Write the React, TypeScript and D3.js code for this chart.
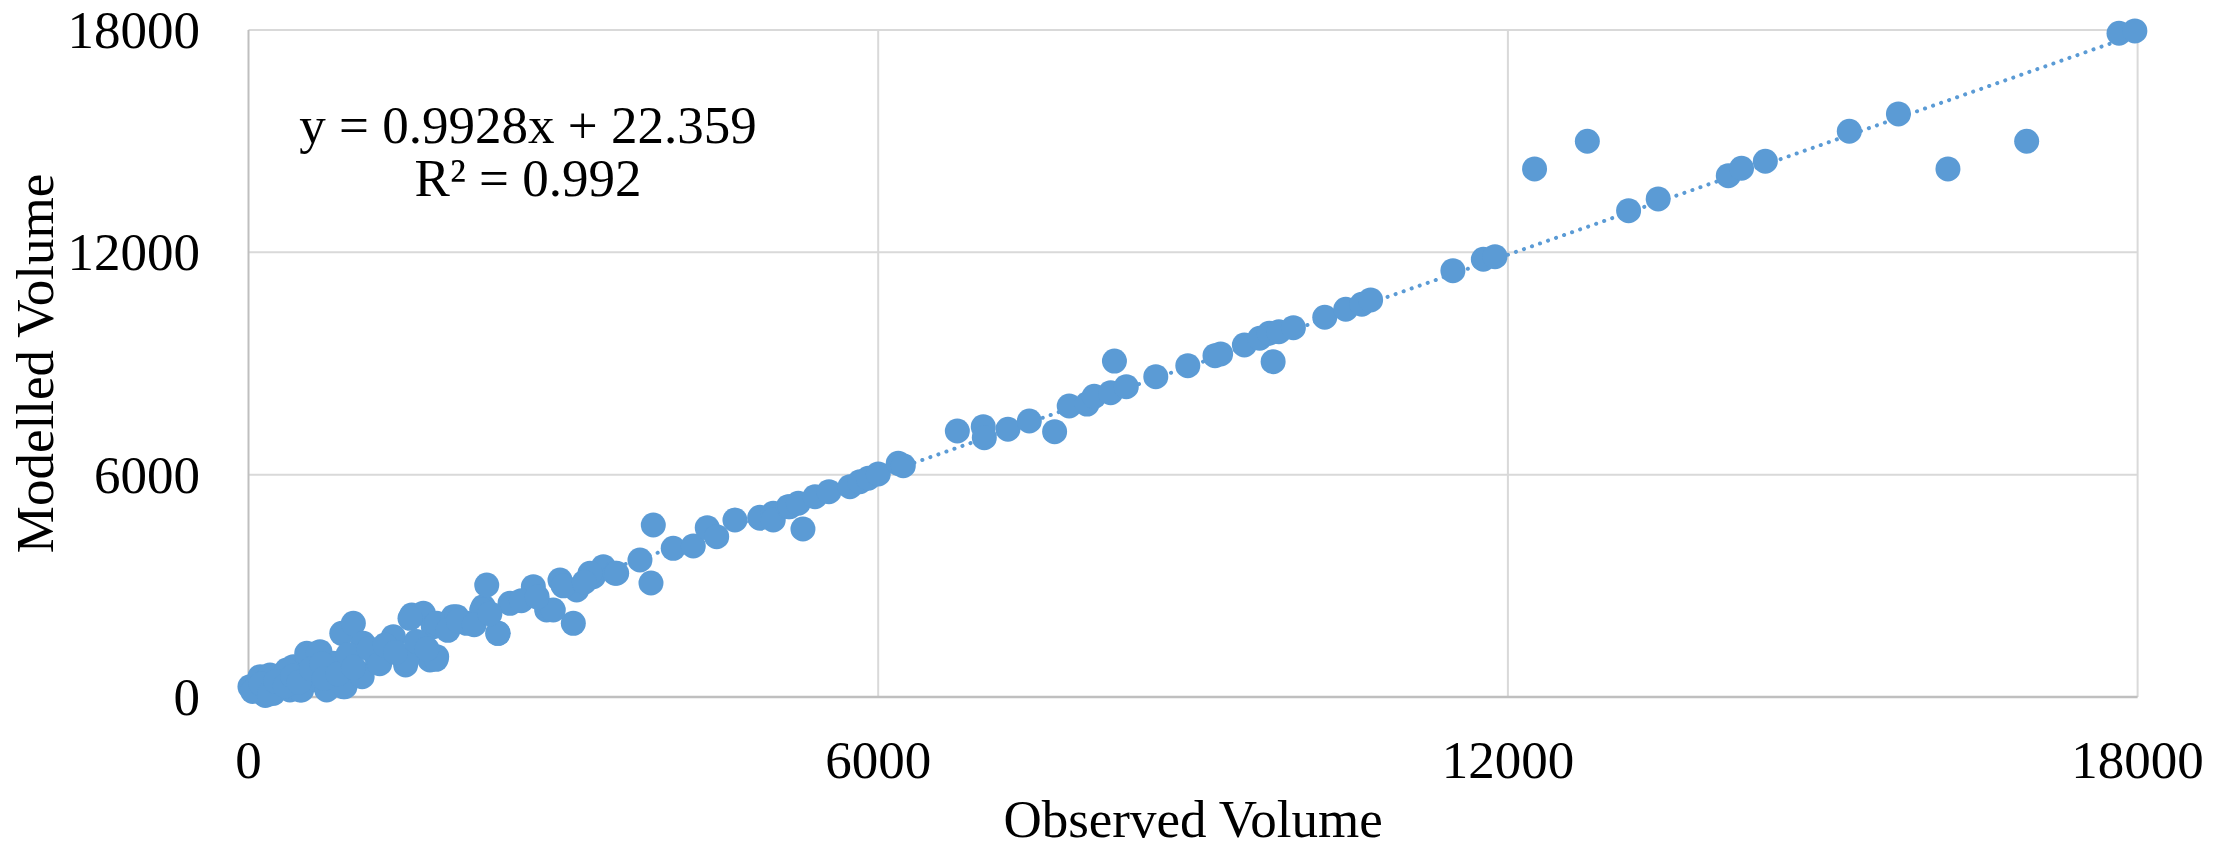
import React from "react";
import * as d3 from "d3";

// Observed vs modelled traffic volumes (one entry per count site)
const observed: number[] = [
  14, 78, 160, 173, 236, 300, 332, 395, 427, 507, 555, 555, 650, 681, 761, 808, 889, 903, 999, 1062,
  1094, 1221, 1230, 1380, 1507, 1497, 1555, 1666, 1729, 1761, 1793, 1793, 1951, 2079, 2237, 2270, 2380,
  2492, 2714, 2841, 2968, 3095, 3127, 3285, 3381, 3492,
  110, 205, 364, 491, 665, 745, 919, 1083, 1475, 1539, 1507, 1787, 1984, 2222, 2374, 2904, 3254, 3508,
  40, 120, 200, 260, 350, 420, 480, 600, 700, 720, 850, 950, 1000, 1150, 1250, 1300, 1400, 1600, 1700,
  1900, 2000, 2150, 2300, 2600, 2750, 3000, 3200,
  3730, 3857, 3835, 4047, 4238, 4371, 4461, 4635, 4873, 4873, 5000, 5000, 5143, 5159, 5239, 5283, 5398,
  5531, 5731, 5826, 5906, 6001, 6191, 6239,
  6754, 7001, 7011, 7236, 7440, 7681, 7820, 7990, 8058, 8215, 8251, 8364, 8645, 8950, 9209, 9263, 9489,
  9635, 9726, 9818, 9763, 9956, 10255, 10455, 10608, 10692, 11476, 11766, 11877, 12254, 12757, 13150,
  13432, 14100, 14226, 14453, 15253, 15721, 16193, 16943, 17823, 17974,
];
const modelled: number[] = [
  278, 278, 40, 459, 100, 278, 548, 189, 818, 189, 1179, 640, 459, 1223, 278, 910, 1719, 278, 1989, 640,
  1449, 1088, 1269, 1628, 1088, 864, 2213, 2259, 999, 1897, 1989, 1088, 2167, 1989, 2437, 3023, 1719,
  2529, 2977, 2348, 3158, 1989, 2888, 3247, 3517, 3339,
  548, 594, 729, 189, 1179, 189, 278, 548, 1088, 2124, 999, 1017, 2167, 2348, 1719, 2348, 3339, 3339,
  150, 350, 80, 420, 300, 560, 400, 760, 900, 500, 620, 1150, 800, 1300, 900, 1400, 1200, 1500, 1300,
  1800, 2050, 1950, 2250, 2600, 2700, 3000, 3100,
  3698, 4642, 3077, 4013, 4076, 4570, 4327, 4777, 4823, 4850, 4958, 4777, 5136, 5136, 5228, 4534, 5406,
  5541, 5676, 5811, 5903, 6019, 6307, 6243,
  7179, 7295, 6998, 7225, 7449, 7161, 7854, 7904, 8115, 8213, 9065, 8375, 8645, 8942, 9212, 9258, 9500,
  9681, 9816, 9860, 9050, 9968, 10248, 10464, 10599, 10715, 11506, 11813, 11884, 14251, 14998, 13125,
  13441, 14070, 14269, 14458, 15268, 15735, 14251, 14998, 17913, 17975,
];

const ticks: number[] = [0, 6000, 12000, 18000];
const fitSlope = 0.9928;
const fitIntercept = 22.359;
const equationLines: string[] = ["y = 0.9928x + 22.359", "R² = 0.992"];
const xTitle = "Observed Volume";
const yTitle = "Modelled Volume";

const W = 2228;
const H = 852;
const plot = { left: 248.5, right: 2137.6, top: 30, bottom: 697 };
const font = "'Liberation Serif', 'Times New Roman', serif";
const blue = "#5B9BD5";
const fs = 53;

export default function App() {
  const x = d3.scaleLinear().domain([0, 18000]).range([plot.left, plot.right]);
  const y = d3.scaleLinear().domain([0, 18000]).range([plot.bottom, plot.top]);
  const points = observed.map((o, i) => ({ o, m: modelled[i] }));
  const fitLine = d3
    .line<number>()
    .x((d) => x(d))
    .y((d) => y(fitSlope * d + fitIntercept));

  return (
    <svg
      width={W}
      height={H}
      style={{ position: "absolute", left: 0, top: 0, background: "#fff" }}
      fontFamily={font}
    >
      {/* grid */}
      {ticks.slice(1).map((t) => (
        <line key={"h" + t} x1={plot.left} x2={plot.right} y1={y(t)} y2={y(t)} stroke="#D9D9D9" strokeWidth={2} />
      ))}
      {ticks.slice(1).map((t) => (
        <line key={"v" + t} x1={x(t)} x2={x(t)} y1={plot.top} y2={plot.bottom} stroke="#D9D9D9" strokeWidth={2} />
      ))}
      {/* axes */}
      <line x1={plot.left} x2={plot.right} y1={plot.bottom} y2={plot.bottom} stroke="#BFBFBF" strokeWidth={2.5} />
      <line x1={plot.left} x2={plot.left} y1={plot.top} y2={plot.bottom} stroke="#BFBFBF" strokeWidth={2} />

      {/* linear trendline */}
      <path
        d={fitLine([0, 18000]) || ""}
        fill="none"
        stroke={blue}
        strokeWidth={4}
        strokeLinecap="round"
        strokeDasharray="0.1 8.4"
      />

      {/* sites */}
      {points.map((p, i) => (
        <circle key={i} cx={x(p.o)} cy={y(p.m)} r={12.5} fill={blue} />
      ))}

      {/* tick labels */}
      {ticks.map((t) => (
        <text key={"yl" + t} x={200} y={y(t) + 18} textAnchor="end" fontSize={fs} fill="#000">
          {t}
        </text>
      ))}
      {ticks.map((t) => (
        <text key={"xl" + t} x={x(t)} y={778} textAnchor="middle" fontSize={fs} fill="#000">
          {t}
        </text>
      ))}

      {/* regression label */}
      <text x={528} y={143} textAnchor="middle" fontSize={fs} fill="#000">
        {equationLines[0]}
      </text>
      <text x={528} y={196} textAnchor="middle" fontSize={fs} fill="#000">
        {equationLines[1]}
      </text>

      {/* axis titles */}
      <text x={(plot.left + plot.right) / 2} y={837} textAnchor="middle" fontSize={fs} fill="#000">
        {xTitle}
      </text>
      <text
        transform={`translate(53, ${(plot.top + plot.bottom) / 2}) rotate(-90)`}
        textAnchor="middle"
        fontSize={fs}
        fill="#000"
      >
        {yTitle}
      </text>
    </svg>
  );
}
